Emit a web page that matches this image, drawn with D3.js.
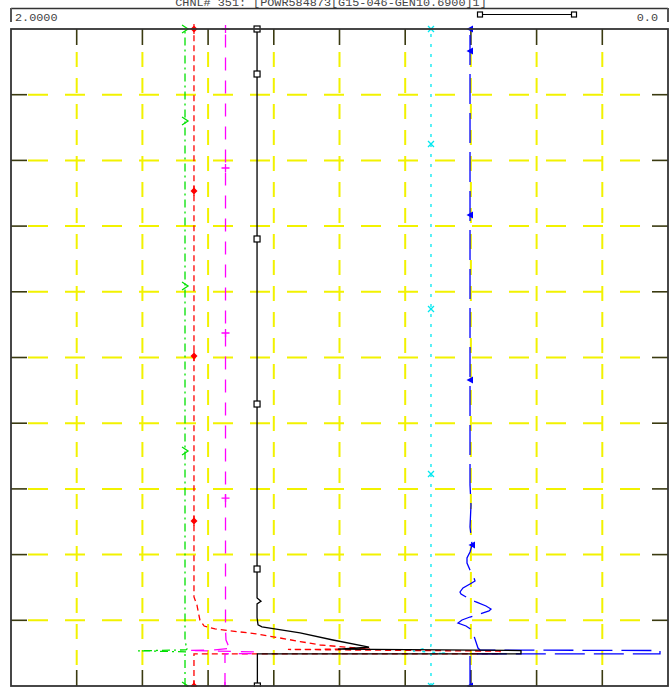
<!DOCTYPE html>
<html><head><meta charset="utf-8">
<script src="https://cdn.jsdelivr.net/npm/d3@7"></script>
<style>html,body{margin:0;padding:0;background:#fff;} svg{display:block;}</style>
</head><body>
<svg id="c" width="670" height="687"></svg>
<script>
// ---- data ----
const channelTitle = "CHNL# 351: [POWR584873[G15-046-GEN10.6900]1]";
const scaleLeftLabel = "2.0000";
const scaleRightLabel = "0.0";
const valueDomain = [2, 0];
const timeDomain = [0, 10];

const blackT = [0, 0.49, 0.49, 0.54, 0.56, 0.59, 0.70, 0.81, 0.90, 0.93, 1.04, 1.25, 1.29, 1.34, 10];
const blackV = [1.25, 1.25, 0.4475, 0.4475, 1.005, 0.91, 1.02, 1.12, 1.236, 1.248, 1.251, 1.251, 1.239, 1.251, 1.251];
const blackMarks = [0, 1.781, 4.292, 6.804, 9.315, 10];

const redT = [0, 0.49, 0.49, 0.53, 0.556, 0.563, 0.624, 0.677, 0.731, 0.792, 0.868, 0.913, 1.005, 1.233, 1.355, 10];
const redV = [1.443, 1.443, 0.511, 0.511, 1.157, 0.907, 1.059, 1.120, 1.181, 1.251, 1.379, 1.412, 1.425, 1.434, 1.443, 1.443];
const redMarks = [0, 2.511, 5.023, 7.534, 10];

const magentaT = [0, 0.49, 0.495, 0.52, 0.54, 0.55, 0.575, 0.624, 0.70, 0.85, 10];
const magentaV = [1.3486, 1.3486, 1.2511, 1.2511, 1.4612, 1.379, 1.327, 1.339, 1.3455, 1.347, 1.347];
const magentaMarks = [0, 2.861, 5.373, 7.884, 10];

const greenT = [0, 0.49, 0.52, 0.535, 0.55, 0.578, 0.624, 0.70, 10];
const greenV = [1.4703, 1.4703, 1.4642, 1.6134, 1.4673, 1.4612, 1.4673, 1.4703, 1.4703];
const greenMarks = [0, 3.577, 6.088, 8.600, 10];

const cyanT = [0, 0.49, 0.50, 0.533, 0.571, 0.609, 10];
const cyanV = [0.7215, 0.7215, 0.6728, 0.7762, 0.7427, 0.7215, 0.7215];
const cyanMarks = [0, 3.227, 5.738, 8.250, 10];

const blueT = [0, 0.49, 0.49, 0.54, 0.548, 0.578, 0.761, 0.852, 0.913, 0.959, 1.005, 1.050, 1.096, 1.142, 1.172, 1.218, 1.279, 1.339, 1.400, 1.431, 1.492, 1.553, 1.598, 1.690, 1.766, 1.872, 1.948, 2.040, 2.146, 2.298, 2.420, 2.755, 3.059, 10];
const blueV = [0.6027, 0.6027, 0.0244, 0.0244, 0.5723, 0.5784, 0.5906, 0.5966, 0.6149, 0.6393, 0.6271, 0.6027, 0.5723, 0.5449, 0.5388, 0.5540, 0.5845, 0.6088, 0.6301, 0.6332, 0.6240, 0.6027, 0.5875, 0.5936, 0.6027, 0.6119, 0.6119, 0.6027, 0.5966, 0.5997, 0.6027, 0.5997, 0.6027, 0.6027];
const blueMarks = [0, 2.146, 4.658, 7.169, 9.665, 10];

// ---- layout ----
const L = 11, R = 668, T = 29, B = 686;
const svg = d3.select("#c");
const x = d3.scaleLinear().domain(valueDomain).range([L, R]);
const y = d3.scaleLinear().domain(timeDomain).range([B, T]);
const font = "'Liberation Mono', 'DejaVu Sans Mono', monospace";

// header
svg.append("text").attr("x", 331).attr("y", 6).attr("text-anchor", "middle")
  .attr("font-family", font).attr("font-size", 11.8).attr("fill", "#444").text(channelTitle);
svg.append("line").attr("x1", L).attr("x2", R).attr("y1", 8.5).attr("y2", 8.5).attr("stroke", "#333").attr("stroke-width", 1.5);
svg.append("line").attr("x1", L).attr("x2", L).attr("y1", 8).attr("y2", 22).attr("stroke", "#555").attr("stroke-width", 2);
svg.append("line").attr("x1", R).attr("x2", R).attr("y1", 8).attr("y2", 22).attr("stroke", "#555").attr("stroke-width", 2);
svg.append("text").attr("x", 15).attr("y", 21).attr("font-family", font).attr("font-size", 11.8).attr("fill", "#444").text(scaleLeftLabel);
svg.append("text").attr("x", 658).attr("y", 21).attr("text-anchor", "end").attr("font-family", font).attr("font-size", 11.8).attr("fill", "#444").text(scaleRightLabel);
svg.append("line").attr("x1", 480).attr("x2", 574).attr("y1", 14.5).attr("y2", 14.5).attr("stroke", "#000").attr("stroke-width", 1.2);
[480, 574].forEach(px => svg.append("rect").attr("x", px - 2.5).attr("y", 12).attr("width", 5).attr("height", 5)
  .attr("fill", "#fff").attr("stroke", "#000").attr("stroke-width", 1.2));

// grid
const xt = x.ticks(10).filter(v => v > 0.001 && v < 1.999);
const yt = y.ticks(10).filter(v => v > 0.001 && v < 9.999);
const grid = svg.append("g").attr("stroke", "#f2f200").attr("stroke-width", 2).attr("fill", "none");
xt.forEach(v => grid.append("line").attr("x1", x(v)).attr("x2", x(v)).attr("y1", T + 16).attr("y2", B - 16)
  .attr("stroke-dasharray", "15,11").attr("stroke-dashoffset", 19));
yt.forEach(v => grid.append("line").attr("y1", y(v)).attr("y2", y(v)).attr("x1", L + 16).attr("x2", R - 16)
  .attr("stroke-dasharray", "20,17").attr("stroke-dashoffset", 36));
const ticks = svg.append("g").attr("stroke", "#3a3a10").attr("stroke-width", 1.6);
xt.forEach(v => {
  ticks.append("line").attr("x1", x(v)).attr("x2", x(v)).attr("y1", T).attr("y2", T + 16);
  ticks.append("line").attr("x1", x(v)).attr("x2", x(v)).attr("y1", B - 16).attr("y2", B);
});
yt.forEach(v => {
  ticks.append("line").attr("y1", y(v)).attr("y2", y(v)).attr("x1", L).attr("x2", L + 16);
  ticks.append("line").attr("y1", y(v)).attr("y2", y(v)).attr("x1", R - 16).attr("x2", R);
});

// series
const series = [
  {t: greenT, v: greenV, m: greenMarks, color: "#00e000", dash: "8,4,2,4", mk: "chev"},
  {t: redT, v: redV, m: redMarks, color: "#ff0000", dash: "6,4", mk: "diamond"},
  {t: magentaT, v: magentaV, m: magentaMarks, color: "#ff00ff", dash: "13,10", mk: "plus"},
  {t: cyanT, v: cyanV, m: cyanMarks, color: "#00e8f0", dash: "3,7", mk: "x"},
  {t: blueT, v: blueV, m: blueMarks, color: "#0000ff", dash: "30,9", mk: "tri"},
  {t: blackT, v: blackV, m: blackMarks, color: "#000000", dash: null, mk: "square"}
];
svg.append("clipPath").attr("id", "clip").append("rect").attr("x", L).attr("y", T).attr("width", R - L).attr("height", B - T);
const plot = svg.append("g").attr("clip-path", "url(#clip)");
const line = d3.line().x(d => x(d[1])).y(d => y(d[0]));
function valueAt(s, tm) {
  for (let i = s.t.length - 1; i > 0; i--) {
    if (tm >= s.t[i - 1] && tm <= s.t[i]) {
      const f = s.t[i] === s.t[i - 1] ? 1 : (tm - s.t[i - 1]) / (s.t[i] - s.t[i - 1]);
      return s.v[i - 1] + f * (s.v[i] - s.v[i - 1]);
    }
  }
  return s.v[0];
}
series.forEach(s => {
  const pts = s.t.map((tm, i) => [tm, s.v[i]]);
  plot.append("path").attr("d", line(pts)).attr("fill", "none").attr("stroke", s.color)
    .attr("stroke-width", 1.3).attr("stroke-dasharray", s.dash);
});
series.forEach(s => {
  s.m.forEach(tm => {
    const g = svg.append("g").attr("transform", `translate(${x(valueAt(s, tm))},${y(tm)})`);
    if (s.mk === "square") g.append("rect").attr("x", -3).attr("y", -3).attr("width", 6).attr("height", 6).attr("fill", "#fff").attr("stroke", s.color).attr("stroke-width", 1.2);
    if (s.mk === "diamond") { g.append("path").attr("d", "M0,-3.5L3.5,0L0,3.5L-3.5,0Z").attr("fill", s.color); g.append("path").attr("d", "M0,-5V5").attr("stroke", s.color).attr("stroke-width", 1.2); }
    if (s.mk === "plus") g.append("path").attr("d", "M-4,0H4M0,-4V4").attr("stroke", s.color).attr("stroke-width", 1.3);
    if (s.mk === "x") g.append("path").attr("d", "M-3,-3L3,3M-3,3L3,-3").attr("stroke", s.color).attr("stroke-width", 1.3);
    if (s.mk === "tri") g.append("path").attr("d", "M-3.5,0L3,-3.5L3,3.5Z").attr("fill", s.color);
    if (s.mk === "chev") g.append("path").attr("d", "M-3,-4L3,0L-3,4").attr("fill", "none").attr("stroke", s.color).attr("stroke-width", 1.3);
  });
});

// frame
svg.append("rect").attr("x", L).attr("y", T).attr("width", R - L).attr("height", B - T)
  .attr("fill", "none").attr("stroke", "#333").attr("stroke-width", 1.8);
</script>
</body></html>
